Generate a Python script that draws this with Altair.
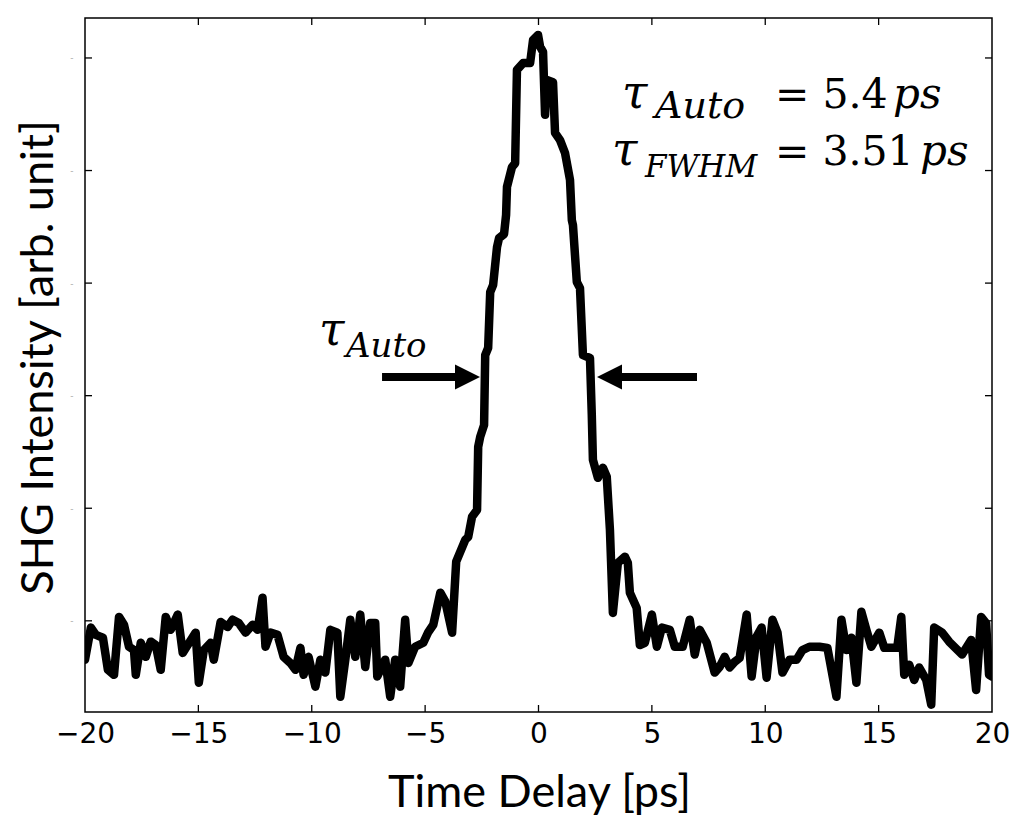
import altair as alt
import pandas as pd

# ---- data (time delay in ps, SHG intensity in arb. unit) ----
time_ps = [
    -20.0, -19.74, -19.52, -19.21, -18.99, -18.72, -18.50, -18.28, -18.06, -17.84,
    -17.76, -17.54, -17.32, -17.10, -16.88, -16.66, -16.44, -16.22, -15.91, -15.69,
    -15.47, -15.12, -14.98, -14.76, -14.46, -14.32, -14.02, -13.71, -13.49, -13.22,
    -12.92, -12.61, -12.39, -12.17, -12.04, -11.82, -11.51, -11.24, -10.94, -10.72,
    -10.50, -10.36, -10.14, -9.84, -9.62, -9.40, -9.18, -8.87, -8.74, -8.52,
    -8.30, -8.08, -7.86, -7.64, -7.42, -7.20, -7.11, -6.76, -6.54, -6.32,
    -6.10, -5.88, -5.74, -5.44, -5.08, -4.86, -4.64, -4.33, -4.11, -3.81,
    -3.63, -3.23, -3.10, -2.93, -2.71, -2.66, -2.57, -2.40, -2.35, -2.22,
    -2.13, -2.00, -1.83, -1.74, -1.52, -1.43, -1.39, -1.17, -1.03, -0.95,
    -0.68, -0.37, -0.24, -0.02, 0.07, 0.20, 0.29, 0.37, 0.64, 0.73,
    0.95, 1.17, 1.39, 1.47, 1.52, 1.69, 1.83, 1.96, 2.27, 2.35,
    2.40, 2.62, 2.84, 3.01, 3.15, 3.28, 3.50, 3.81, 3.94, 4.03,
    4.33, 4.47, 4.69, 5.00, 5.22, 5.44, 5.79, 6.01, 6.36, 6.67,
    6.89, 7.11, 7.42, 7.77, 7.99, 8.21, 8.43, 8.65, 8.87, 9.18,
    9.40, 9.62, 9.84, 10.06, 10.32, 10.54, 10.76, 11.07, 11.38, 11.64,
    11.95, 12.39, 12.74, 13.14, 13.36, 13.58, 13.80, 14.02, 14.24, 14.46,
    14.68, 15.03, 15.25, 15.82, 16.00, 16.13, 16.35, 16.57, 16.79, 17.10,
    17.32, 17.45, 17.80, 18.11, 18.68, 19.08, 19.30, 19.52, 19.74, 19.87,
    20.0,
]
intensity = [
    -0.069, -0.012, -0.025, -0.030, -0.087, -0.096, 0.007, -0.007, -0.046, -0.052,
    -0.096, -0.039, -0.064, -0.037, -0.043, -0.087, 0.007, -0.016, 0.011, -0.057,
    -0.043, -0.021, -0.110, -0.052, -0.039, -0.069, -0.002, -0.011, 0.002, -0.004,
    -0.021, -0.007, -0.016, 0.041, -0.046, -0.021, -0.025, -0.064, -0.075, -0.087,
    -0.048, -0.096, -0.064, -0.117, -0.069, -0.092, -0.016, -0.021, -0.135, -0.069,
    0.002, -0.064, 0.011, -0.082, -0.004, -0.004, -0.099, -0.069, -0.135, -0.069,
    -0.117, 0.002, -0.075, -0.046, -0.039, -0.020, -0.007, 0.050, 0.034, -0.021,
    0.105, 0.144, 0.149, 0.185, 0.197, 0.309, 0.327, 0.348, 0.472, 0.485,
    0.584, 0.597, 0.664, 0.680, 0.687, 0.721, 0.771, 0.806, 0.813, 0.979,
    0.991, 0.991, 1.032, 1.041, 1.020, 1.011, 0.899, 0.961, 0.957, 0.867,
    0.854, 0.831, 0.783, 0.712, 0.703, 0.602, 0.591, 0.472, 0.467, 0.366,
    0.286, 0.254, 0.272, 0.256, 0.162, 0.014, 0.103, 0.114, 0.103, 0.050,
    0.023, -0.043, -0.039, 0.011, -0.046, -0.012, -0.016, -0.046, -0.046, 0.002,
    -0.060, -0.016, -0.039, -0.092, -0.082, -0.064, -0.083, -0.073, -0.066, 0.011,
    -0.099, -0.028, -0.012, -0.101, 0.002, -0.021, -0.092, -0.069, -0.069, -0.052,
    -0.046, -0.046, -0.048, -0.135, 0.002, -0.052, -0.030, -0.110, 0.016, -0.016,
    -0.046, -0.021, -0.048, -0.048, 0.007, -0.096, -0.078, -0.105, -0.083, -0.105,
    -0.149, -0.012, -0.021, -0.037, -0.060, -0.034, -0.123, 0.007, -0.004, -0.096,
    -0.099,
]

x_tick_values = [-20, -15, -10, -5, 0, 5, 10, 15, 20]
x_inner_ticks = [-15, -10, -5, 0, 5, 10, 15]
y_tick_values = [0.0, 0.2, 0.4, 0.6, 0.8, 1.0]

# FWHM arrows (data coordinates): tail, tip, level
arrow_tail = [-6.90, 6.99]
arrow_tip = [-2.58, 2.58]
arrow_level = [0.433, 0.433]

# annotation pieces: text, style, font size, position in plot pixels
ann_text = ["τ", "Auto", "= 5.4", "ps", "τ", "FWHM", "= 3.51", "ps", "τ", "Auto"]
ann_italic = [True, True, False, True, True, True, False, True, True, True]
ann_size = [46, 38, 41, 42, 46, 31, 41, 42, 46, 34]
ann_px = [537, 570, 690, 808, 527, 560, 690, 835, 234, 261]
ann_py = [90, 100, 90, 90, 147, 159, 147, 147, 327, 339]

W, H = 907, 694
XDOM = [-20, 20]
YDOM = [-0.162, 1.071]

df = pd.DataFrame({"t": time_ps, "I": intensity, "i": list(range(len(time_ps)))})
xs = alt.Scale(domain=XDOM, nice=False, zero=False)
ys = alt.Scale(domain=YDOM, nice=False, zero=False)

minus = "−"
line = alt.Chart(df).mark_line(
    color="black", strokeWidth=8.5, strokeJoin="round", strokeCap="round", clip=True
).encode(
    x=alt.X("t:Q", scale=xs, axis=alt.Axis(
        values=x_tick_values, ticks=False, tickSize=0, domain=False, grid=False,
        labelExpr=f"datum.value < 0 ? '{minus}' + abs(datum.value) : '' + datum.value",
        labelFont="DejaVu Sans", labelFontSize=28, labelColor="black",
        labelPadding=8, labelFlush=False, labelOverlap=False,
        title="Time Delay [ps]", titleFont="Lato", titleFontSize=45,
        titleFontWeight="normal", titleColor="black",
        titleX=454, titleY=80, titleAlign="center", titleBaseline="middle",
    )),
    y=alt.Y("I:Q", scale=ys, axis=alt.Axis(
        values=y_tick_values, ticks=False, tickSize=0, domain=False, grid=False,
        labelExpr="'-'", labelFont="DejaVu Sans", labelFontSize=9,
        labelColor="#aaaaaa", labelPadding=12,
        title="SHG Intensity [arb. unit]", titleFont="Lato", titleFontSize=45,
        titleFontWeight="normal", titleColor="black",
        titleX=-47, titleY=339, titleAngle=270, titleAlign="center",
        titleBaseline="middle",
    )),
    order="i:Q",
)

# inward tick marks on all four sides
xt = pd.DataFrame({"v": x_inner_ticks})
yt = pd.DataFrame({"v": y_tick_values})
tick_style = dict(color="black", strokeWidth=1.3)
bottom_ticks = alt.Chart(xt).mark_rule(**tick_style).encode(
    x=alt.X("v:Q", scale=xs), y=alt.value(H), y2=alt.value(H - 7))
top_ticks = alt.Chart(xt).mark_rule(**tick_style).encode(
    x=alt.X("v:Q", scale=xs), y=alt.value(0), y2=alt.value(7))
left_ticks = alt.Chart(yt).mark_rule(**tick_style).encode(
    y=alt.Y("v:Q", scale=ys), x=alt.value(0), x2=alt.value(7))
right_ticks = alt.Chart(yt).mark_rule(**tick_style).encode(
    y=alt.Y("v:Q", scale=ys), x=alt.value(W), x2=alt.value(W - 7))

# arrows
adf = pd.DataFrame({"tail": arrow_tail, "tip": arrow_tip, "lev": arrow_level})
adf["dir"] = [1 if b > a else -1 for a, b in zip(arrow_tail, arrow_tip)]
adf["shaft_end"] = adf["tip"] - adf["dir"] * 0.55
shafts = alt.Chart(adf).mark_rule(color="black", strokeWidth=8, strokeCap="butt").encode(
    x=alt.X("tail:Q", scale=xs), x2="shaft_end:Q", y=alt.Y("lev:Q", scale=ys))
head_r = alt.Chart(adf[adf["dir"] > 0]).mark_point(
    shape="M1,0L-1,-1L-1,1Z", size=625, filled=True, color="black", opacity=1,
    strokeWidth=0, xOffset=-12.5,
).encode(x=alt.X("tip:Q", scale=xs), y=alt.Y("lev:Q", scale=ys))
head_l = alt.Chart(adf[adf["dir"] < 0]).mark_point(
    shape="M-1,0L1,-1L1,1Z", size=625, filled=True, color="black", opacity=1,
    strokeWidth=0, xOffset=12.5,
).encode(x=alt.X("tip:Q", scale=xs), y=alt.Y("lev:Q", scale=ys))

# annotation text
ann = pd.DataFrame({"txt": ann_text, "it": ann_italic, "sz": ann_size,
                    "px": ann_px, "py": ann_py})
def text_layer(sub, style):
    return alt.Chart(sub).mark_text(
        font="DejaVu Serif", fontStyle=style, align="left", baseline="alphabetic",
        color="black",
    ).encode(
        x=alt.X("px:Q", scale=None), y=alt.Y("py:Q", scale=None),
        text="txt:N", size=alt.Size("sz:Q", scale=None, legend=None),
    )

ann_it = text_layer(ann[ann["it"]], "italic")
ann_rm = text_layer(ann[~ann["it"]], "normal")

chart = alt.layer(
    line, bottom_ticks, top_ticks, left_ticks, right_ticks,
    shafts, head_r, head_l, ann_it, ann_rm,
).properties(
    width=W, height=H,
    autosize=alt.AutoSizeParams(type="none"),
    padding={"left": 85, "top": 18, "right": 27, "bottom": 109},
    background="white",
).configure_view(stroke="black", strokeWidth=1.5)

chart.save("out.html", embed_options={"renderer": "svg", "actions": False})
